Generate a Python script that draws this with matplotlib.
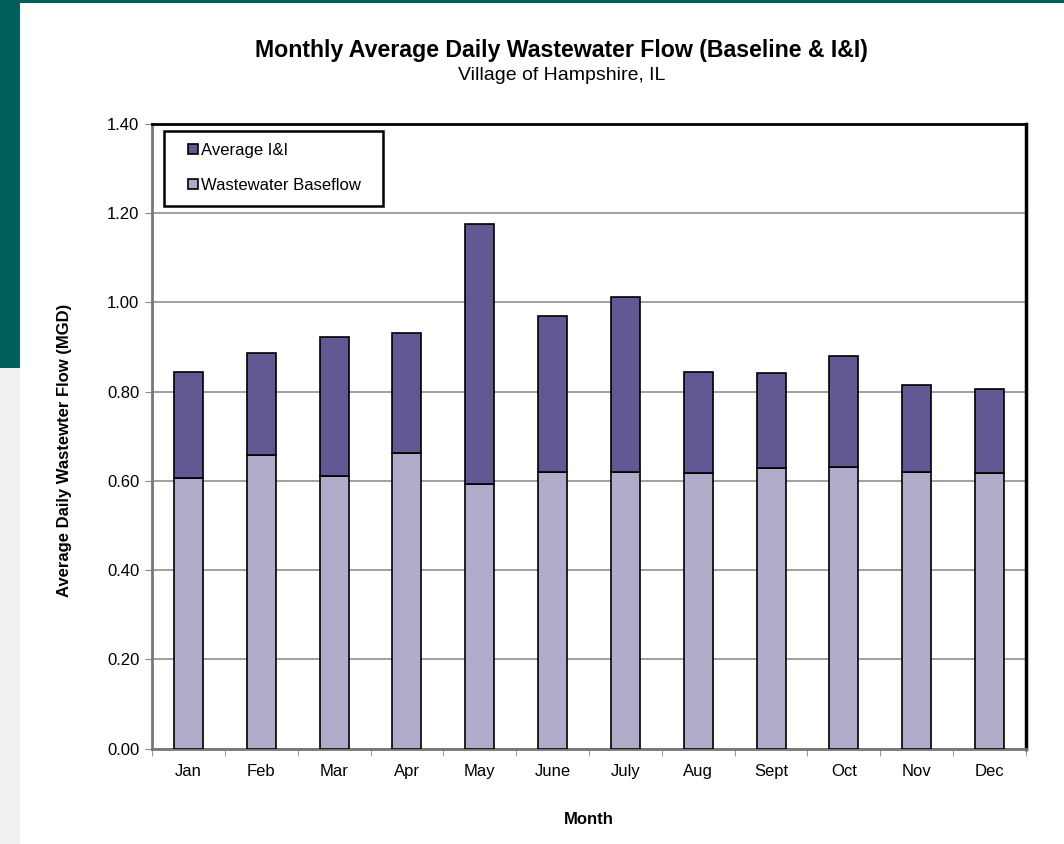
import matplotlib
matplotlib.use('Agg')
import matplotlib.pyplot as plt
from matplotlib.patches import Rectangle
import numpy as np

# Monthly flow data (MGD)
months = ['Jan', 'Feb', 'Mar', 'Apr', 'May', 'June', 'July', 'Aug', 'Sept', 'Oct', 'Nov', 'Dec']
baseflow = [0.606, 0.658, 0.611, 0.662, 0.593, 0.621, 0.619, 0.617, 0.628, 0.632, 0.619, 0.617]
total_flow = [0.844, 0.887, 0.923, 0.932, 1.176, 0.970, 1.012, 0.844, 0.843, 0.880, 0.814, 0.806]
inflow = [t - b for t, b in zip(total_flow, baseflow)]  # I&I part on top of baseflow

plt.rcParams['font.family'] = ['Liberation Sans', 'DejaVu Sans']

fig = plt.figure(figsize=(10.64, 8.44), dpi=100)
fig.patch.set_facecolor('white')

# slide frame: teal strip on top and left, grey below it
fig.patches.append(Rectangle((0, 1 - 3 / 844), 1, 3 / 844, transform=fig.transFigure,
                             facecolor='#005f5a', edgecolor='none', zorder=0))
fig.patches.append(Rectangle((0, 1 - 368 / 844), 20 / 1064, 368 / 844, transform=fig.transFigure,
                             facecolor='#005f5a', edgecolor='none', zorder=0))
fig.patches.append(Rectangle((0, 0), 20 / 1064, 1 - 368 / 844, transform=fig.transFigure,
                             facecolor='#f0f0f0', edgecolor='none', zorder=0))

ax = fig.add_axes([152 / 1064, 1 - 748.6 / 844, 874 / 1064, 624.6 / 844])
x = np.arange(len(months))

ax.bar(x, baseflow, width=0.40, color='#b2abca', edgecolor='black', linewidth=1.2,
       label='Wastewater Baseflow', zorder=3)
ax.bar(x, inflow, bottom=baseflow, width=0.40, color='#635893', edgecolor='black',
       linewidth=1.2, label='Average I&I', zorder=3)

ax.set_xlim(-0.5, len(months) - 0.5)
ax.set_ylim(0, 1.4)
ax.set_yticks(np.arange(0, 1.41, 0.2))
ax.set_yticklabels(['%.2f' % v for v in np.arange(0, 1.41, 0.2)], fontsize=12)
ax.yaxis.grid(True, color='#999999', linewidth=1.3, zorder=0)
ax.set_axisbelow(True)

ax.set_xticks(x)
ax.set_xticklabels(months, fontsize=12)
ax.set_xticks(np.arange(-0.5, len(months)), minor=True)
ax.tick_params(axis='x', which='major', length=0, pad=11)
ax.tick_params(axis='x', which='minor', length=5, color='#888888', direction='out')
ax.tick_params(axis='y', length=5, color='#888888', direction='out', pad=4)

for side in ['left', 'bottom']:
    ax.spines[side].set_color('#777777')
    ax.spines[side].set_linewidth(2)
ax.spines['top'].set_color('black')
ax.spines['top'].set_linewidth(2)
ax.spines['right'].set_color('black')
ax.spines['right'].set_linewidth(2.5)

ax.set_ylabel('Average Daily Wastewter Flow (MGD)', fontsize=12, fontweight='bold')
ax.yaxis.set_label_coords(-0.0915, 0.478)
ax.set_xlabel('Month', fontsize=12, fontweight='bold')
ax.xaxis.set_label_coords(0.5, -0.1015)

# legend box drawn by hand so its padding matches
ax.add_patch(Rectangle((0.0137, 0.8687), 0.2506, 0.1201, transform=ax.transAxes,
                       facecolor='white', edgecolor='black', linewidth=1.8, zorder=4))
handles, labels = ax.get_legend_handles_labels()
leg = ax.legend(handles[::-1], labels[::-1], loc='center left',
                bbox_to_anchor=(0.0412, 0.9296), frameon=False,
                fontsize=12, handlelength=0.6, handleheight=0.6,
                handletextpad=0.15, labelspacing=1.2, borderpad=0, borderaxespad=0)
leg.set_zorder(5)

fig.text(0.528, 1 - 50 / 844, 'Monthly Average Daily Wastewater Flow (Baseline & I&I)',
         ha='center', va='center', fontsize=16.7, fontweight='bold')
fig.text(0.528, 1 - 75 / 844, 'Village of Hampshire, IL', ha='center', va='center', fontsize=14)

fig.savefig('out.png', dpi=100)
